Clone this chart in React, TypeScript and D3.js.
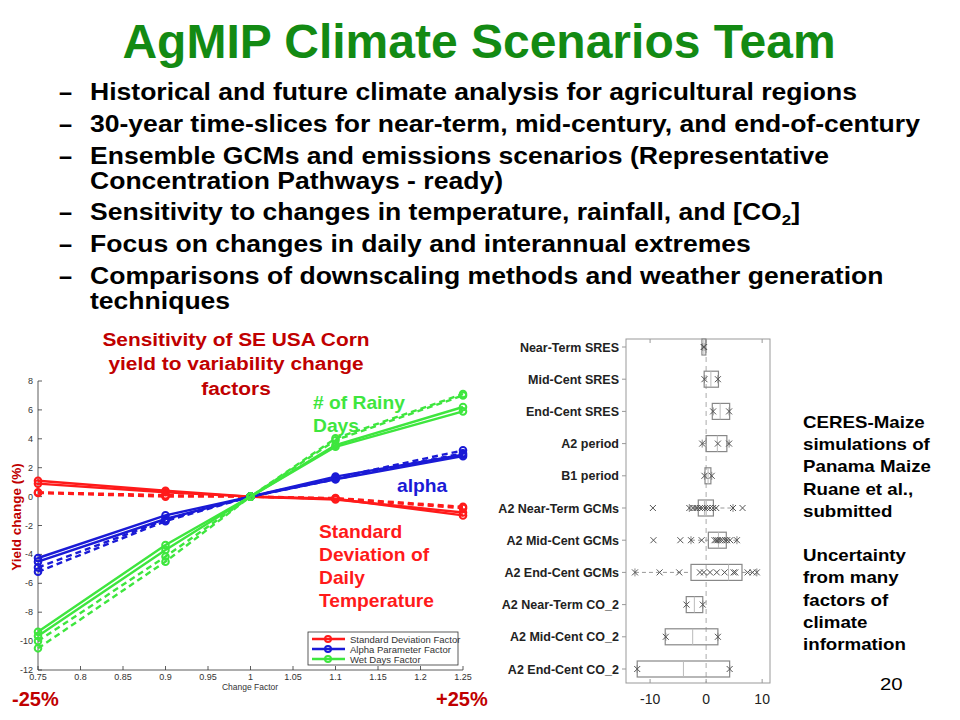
import * as d3 from 'd3'
import type { ReactNode } from 'react'

// ---- left chart: yield sensitivity to variability change factors ----
const changeFactors = [0.75, 0.9, 1.0, 1.1, 1.25]
const xTickValues = [0.75, 0.8, 0.85, 0.9, 0.95, 1, 1.05, 1.1, 1.15, 1.2, 1.25]
const yTickValues = [-12, -10, -8, -6, -4, -2, 0, 2, 4, 6, 8]

const sdSolidA = [1.1, 0.4, 0, -0.2, -1.1]
const sdSolidB = [0.9, 0.3, 0, -0.15, -1.3]
const sdDashA = [0.3, 0.1, 0, -0.1, -0.7]
const sdDashB = [0.25, 0.0, 0, -0.15, -0.8]

const alphaSolidA = [-4.25, -1.3, 0, 1.38, 2.9]
const alphaSolidB = [-4.5, -1.55, 0, 1.2, 2.8]
const alphaDashA = [-4.9, -1.6, 0, 1.3, 3.2]
const alphaDashB = [-5.2, -1.7, 0, 1.2, 3.0]

const wetSolidA = [-9.35, -3.35, 0, 3.57, 6.2]
const wetSolidB = [-9.65, -3.7, 0, 3.45, 5.9]
const wetDashA = [-10.0, -4.15, 0, 4.03, 7.1]
const wetDashB = [-10.5, -4.5, 0, 3.9, 7.0]

const legendNames = ['Standard Deviation Factor', 'Alpha Parameter Factor', 'Wet Days Factor']

// ---- right chart: CERES-Maize boxplots ----
const scenarios = [
  'Near-Term SRES', 'Mid-Cent SRES', 'End-Cent SRES', 'A2 period', 'B1 period',
  'A2 Near-Term GCMs', 'A2 Mid-Cent GCMs', 'A2 End-Cent GCMs',
  'A2 Near-Term CO_2', 'A2 Mid-Cent CO_2', 'A2 End-Cent CO_2'
]
const boxQ1 = [-0.75, -0.35, 1.1, 0.0, -0.2, -1.4, 0.4, -2.7, -3.55, -7.3, -12.3]
const boxMedian = [-0.4, 0.85, 2.5, 2.0, 0.35, -0.3, 2.2, 4.0, -2.1, -2.4, -4.05]
const boxQ3 = [-0.05, 2.2, 4.2, 3.7, 0.85, 1.3, 3.6, 6.4, -0.6, 2.1, 4.2]
const whiskLo = [-0.6, -0.3, 1.25, -0.7, -0.3, -3.0, -2.7, -12.7, -3.5, -7.2, -12.3]
const whiskHi = [-0.2, 2.1, 4.1, 4.1, 1.0, 4.8, 5.5, 9.05, -0.6, 2.1, 4.2]
const scenarioPoints = [
  [-0.45, -0.35],
  [-0.3, 2.1],
  [1.25, 4.1],
  [-0.7, 2.1, 4.1],
  [-0.3, 1.0],
  [-9.5, -3.0, -2.3, -1.9, -1.6, -1.1, -0.7, -0.2, 0.2, 0.7, 1.25, 1.8, 4.8, 6.5],
  [-9.4, -4.6, -2.7, -0.8, 1.5, 1.8, 2.1, 2.5, 2.9, 3.4, 3.75, 4.3, 5.5],
  [-12.7, -8.3, -4.8, -1.1, -0.4, 0.7, 1.9, 3.3, 4.9, 5.2, 7.4, 8.3, 9.05],
  [-3.5, -0.6],
  [-7.2, 2.1],
  [-12.3, 4.2]
]
const boxTicks = [-10, 0, 10]

const bullets = [
  'Historical and future climate analysis for agricultural regions',
  '30-year time-slices for near-term, mid-century, and end-of-century',
  'Ensemble GCMs and emissions scenarios (Representative',
  'Sensitivity to changes in temperature, rainfall, and [CO',
  'Focus on changes in daily and interannual extremes',
  'Comparisons of downscaling methods and weather generation'
]
const noteLines = ['CERES-Maize', 'simulations of', 'Panama Maize', 'Ruane et al.,', 'submitted', '', 'Uncertainty', 'from many', 'factors of', 'climate', 'information']

const RED = '#ff1a1a'
const BLUE = '#1a1ad6'
const GREEN = '#3ee63e'
const DARKRED = '#c00000'
const FONT = '"Liberation Sans", Arial, sans-serif'

// text stretched horizontally, the slide's fonts render wider than Liberation
function SText({ x, y, sx = 1, anchor = 'start', children, ...rest }: {
  x: number, y: number, sx?: number, anchor?: string, children: ReactNode, [k: string]: any
}) {
  return (
    <text transform={`translate(${x},${y}) scale(${sx},1)`} textAnchor={anchor} {...rest}>{children}</text>
  )
}

export default function App() {
  const x = d3.scaleLinear().domain([0.75, 1.25]).range([38, 463])
  const y = d3.scaleLinear().domain([-12, 8]).range([670, 381])
  const line = d3.line<number>()
    .x((_, i) => x(changeFactors[i]))
    .y(d => y(d))

  const series = [
    { values: sdDashA, color: RED, dashed: true },
    { values: sdDashB, color: RED, dashed: true },
    { values: sdSolidA, color: RED, dashed: false },
    { values: sdSolidB, color: RED, dashed: false },
    { values: alphaDashA, color: BLUE, dashed: true },
    { values: alphaDashB, color: BLUE, dashed: true },
    { values: alphaSolidA, color: BLUE, dashed: false },
    { values: alphaSolidB, color: BLUE, dashed: false },
    { values: wetDashA, color: GREEN, dashed: true },
    { values: wetDashB, color: GREEN, dashed: true },
    { values: wetSolidA, color: GREEN, dashed: false },
    { values: wetSolidB, color: GREEN, dashed: false }
  ]
  const legendColors = [RED, BLUE, GREEN]

  const xb = d3.scaleLinear().domain([-14.3, 11.4]).range([626, 770])
  const yb = d3.scalePoint<string>().domain(scenarios).range([347, 669])
  const boxTop = 339
  const boxBottom = 683
  const bh = 8

  const bulletY = [100, 132, 164, 220, 252, 284]
  const bsx = 1.13

  return (
    <svg width={960} height={720} style={{ position: 'absolute', left: 0, top: 0, background: '#fff' }} fontFamily={FONT}>
      <rect width={960} height={720} fill="#fff" />
      <text x={479} y={58} textAnchor="middle" fontSize={48} fontWeight="bold" fill="#138a13">AgMIP Climate Scenarios Team</text>

      <g fontSize={23.5} fontWeight="bold" fill="#000">
        {bullets.map((b, i) => (
          <g key={i}>
            <text x={59} y={bulletY[i]}>–</text>
            <SText x={90} y={bulletY[i]} sx={bsx}>
              {b}
              {i === 3 && <><tspan fontSize={15} dy={5}>2</tspan><tspan dy={-5}>]</tspan></>}
            </SText>
          </g>
        ))}
        <SText x={90} y={189} sx={bsx}>Concentration Pathways - ready)</SText>
        <SText x={90} y={309} sx={bsx}>techniques</SText>
      </g>

      {/* left chart */}
      <g fill={DARKRED} fontSize={18} fontWeight="bold">
        <SText x={236} y={346} sx={1.16} anchor="middle">Sensitivity of SE USA Corn</SText>
        <SText x={236} y={370} sx={1.16} anchor="middle">yield to variability change</SText>
        <SText x={236} y={395} sx={1.16} anchor="middle">factors</SText>
      </g>
      <line x1={38} x2={38} y1={381} y2={670} stroke="#333" strokeWidth={0.8} />
      <line x1={38} x2={463} y1={670} y2={670} stroke="#333" strokeWidth={0.8} />
      {yTickValues.map(v => (
        <g key={v}>
          <line x1={38} x2={42} y1={y(v)} y2={y(v)} stroke="#333" strokeWidth={0.8} />
          <text x={33} y={y(v) + 3} textAnchor="end" fontSize={9} fill="#333">{v}</text>
        </g>
      ))}
      {xTickValues.map(v => (
        <g key={v}>
          <line x1={x(v)} x2={x(v)} y1={670} y2={666} stroke="#333" strokeWidth={0.8} />
          <text x={x(v)} y={680} textAnchor="middle" fontSize={9} fill="#333">{v}</text>
        </g>
      ))}
      <text x={250} y={690} textAnchor="middle" fontSize={8.5} fill="#333">Change Factor</text>
      <text transform="translate(21,517) rotate(-90)" textAnchor="middle" fontSize={13.5} fontWeight="bold" fill={DARKRED}>Yield change (%)</text>

      {series.map((s, i) => (
        <g key={i}>
          <path d={line(s.values) ?? ''} fill="none" stroke={s.color} strokeWidth={2.4}
            strokeDasharray={s.dashed ? '6,4' : undefined} />
          {s.values.map((v, j) => (
            <circle key={j} cx={x(changeFactors[j])} cy={y(v)} r={3.3} fill="none" stroke={s.color} strokeWidth={2} />
          ))}
        </g>
      ))}

      <g fontWeight="bold" fontSize={17.5}>
        <SText x={313} y={409} sx={1.1} fill={GREEN}># of Rainy</SText>
        <SText x={313} y={432} sx={1.1} fill={GREEN}>Days</SText>
        <SText x={397} y={492} sx={1.1} fill={BLUE}>alpha</SText>
        {['Standard', 'Deviation of', 'Daily', 'Temperature'].map((t, i) => (
          <SText key={t} x={319} y={538 + i * 23} sx={1.1} fill={RED}>{t}</SText>
        ))}
      </g>

      <rect x={308} y={632} width={150} height={33} fill="#fff" stroke="#333" strokeWidth={0.8} />
      {legendNames.map((n, i) => (
        <g key={n}>
          <line x1={312} x2={345} y1={639 + i * 10} y2={639 + i * 10} stroke={legendColors[i]} strokeWidth={2.4} />
          <circle cx={328} cy={639 + i * 10} r={3} fill="none" stroke={legendColors[i]} strokeWidth={2} />
          <text x={350} y={642.5 + i * 10} fontSize={9.5} fill="#333">{n}</text>
        </g>
      ))}

      <text x={12} y={706} fontSize={20} fontWeight="bold" fill={DARKRED}>-25%</text>
      <text x={436} y={706} fontSize={20} fontWeight="bold" fill={DARKRED}>+25%</text>

      {/* right chart */}
      <rect x={626} y={boxTop} width={770 - 626} height={boxBottom - boxTop} fill="none" stroke="#999" strokeWidth={1} />
      <line x1={xb(0)} x2={xb(0)} y1={boxTop} y2={boxBottom} stroke="#aaa" strokeWidth={1} strokeDasharray="5,4" />
      {boxTicks.map(t => (
        <g key={t}>
          <line x1={xb(t)} x2={xb(t)} y1={boxTop} y2={boxTop + 4} stroke="#999" />
          <line x1={xb(t)} x2={xb(t)} y1={boxBottom} y2={boxBottom - 4} stroke="#999" />
          <text x={xb(t)} y={704} textAnchor="middle" fontSize={14} fill="#222">{t}</text>
        </g>
      ))}
      {scenarios.map((s, i) => {
        const cy = yb(s) ?? 0
        return (
          <g key={s}>
            <line x1={622} x2={626} y1={cy} y2={cy} stroke="#999" />
            <text x={619} y={cy + 4.5} textAnchor="end" fontSize={12.5} fontWeight="bold" fill="#222">{s}</text>
            <line x1={xb(whiskLo[i])} x2={xb(boxQ1[i])} y1={cy} y2={cy} stroke="#999" strokeDasharray="4,3" />
            <line x1={xb(boxQ3[i])} x2={xb(whiskHi[i])} y1={cy} y2={cy} stroke="#999" strokeDasharray="4,3" />
            <line x1={xb(whiskLo[i])} x2={xb(whiskLo[i])} y1={cy - 4} y2={cy + 4} stroke="#888" />
            <line x1={xb(whiskHi[i])} x2={xb(whiskHi[i])} y1={cy - 4} y2={cy + 4} stroke="#888" />
            <rect x={xb(boxQ1[i])} y={cy - bh} width={xb(boxQ3[i]) - xb(boxQ1[i])} height={bh * 2} fill="none" stroke="#888" strokeWidth={1.2} />
            <line x1={xb(boxMedian[i])} x2={xb(boxMedian[i])} y1={cy - bh} y2={cy + bh} stroke="#bbb" />
            {scenarioPoints[i].map((p, j) => (
              <path key={j} d={`M${xb(p) - 3},${cy - 3}L${xb(p) + 3},${cy + 3}M${xb(p) - 3},${cy + 3}L${xb(p) + 3},${cy - 3}`} stroke="#555" strokeWidth={1} />
            ))}
          </g>
        )
      })}

      <g fontSize={16} fontWeight="bold" fill="#000">
        {noteLines.map((t, i) => (
          <SText key={i} x={803} y={428 + i * 22.2} sx={1.17}>{t}</SText>
        ))}
      </g>
      <SText x={880} y={690} sx={1.2} fontSize={17} fill="#000">20</SText>
    </svg>
  )
}
